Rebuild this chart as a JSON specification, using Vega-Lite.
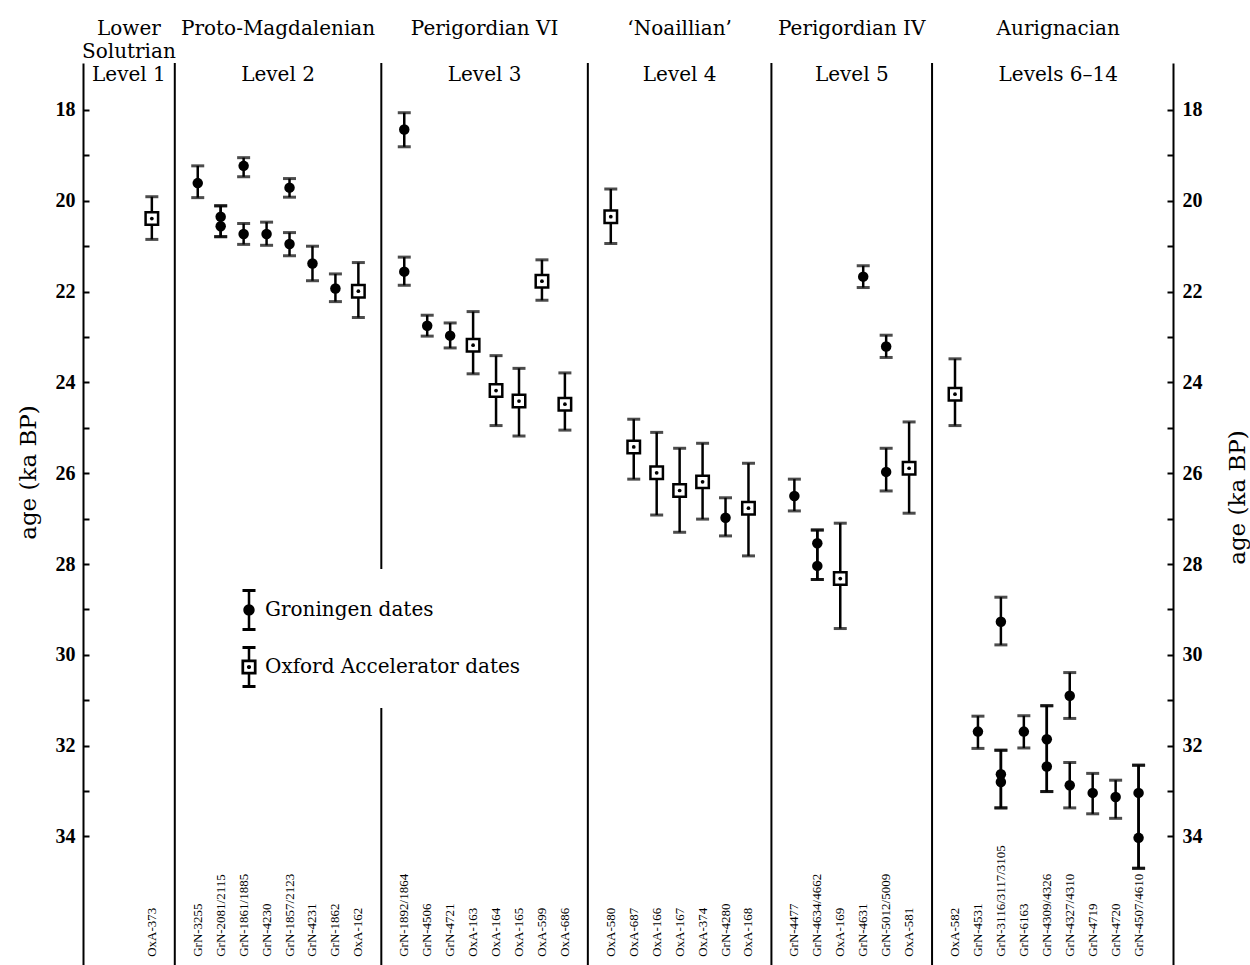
{
  "$schema": "https://vega.github.io/schema/vega-lite/v6.json",
  "width": 1090,
  "height": 902,
  "autosize": "none",
  "padding": {"left": 83, "top": 63, "right": 77, "bottom": 0},
  "background": "white",
  "config": {"view": {"stroke": null}, "font": "Liberation Serif"},
  "datasets": {
    "points": [
      {"col": "OxA-373", "lab": "Oxford Accelerator dates", "age": 20.39, "lo": 19.91, "hi": 20.85},
      {"col": "GrN-3255", "lab": "Groningen dates", "age": 19.61, "lo": 19.23, "hi": 19.93},
      {"col": "GrN-2081/2115", "lab": "Groningen dates", "age": 20.35, "lo": 20.11, "hi": 20.79},
      {"col": "GrN-2081/2115", "lab": "Groningen dates", "age": 20.56, "lo": 20.11, "hi": 20.79},
      {"col": "GrN-1861/1885", "lab": "Groningen dates", "age": 19.23, "lo": 19.05, "hi": 19.47},
      {"col": "GrN-1861/1885", "lab": "Groningen dates", "age": 20.73, "lo": 20.50, "hi": 20.96},
      {"col": "GrN-4230", "lab": "Groningen dates", "age": 20.73, "lo": 20.47, "hi": 20.98},
      {"col": "GrN-1857/2123", "lab": "Groningen dates", "age": 19.71, "lo": 19.51, "hi": 19.92},
      {"col": "GrN-1857/2123", "lab": "Groningen dates", "age": 20.95, "lo": 20.70, "hi": 21.21},
      {"col": "GrN-4231", "lab": "Groningen dates", "age": 21.38, "lo": 21.00, "hi": 21.76},
      {"col": "GrN-1862", "lab": "Groningen dates", "age": 21.93, "lo": 21.61, "hi": 22.22},
      {"col": "OxA-162", "lab": "Oxford Accelerator dates", "age": 21.99, "lo": 21.36, "hi": 22.57},
      {"col": "GrN-1892/1864", "lab": "Groningen dates", "age": 18.43, "lo": 18.06, "hi": 18.81},
      {"col": "GrN-1892/1864", "lab": "Groningen dates", "age": 21.56, "lo": 21.24, "hi": 21.86},
      {"col": "GrN-4506", "lab": "Groningen dates", "age": 22.75, "lo": 22.52, "hi": 22.98},
      {"col": "GrN-4721", "lab": "Groningen dates", "age": 22.97, "lo": 22.69, "hi": 23.24},
      {"col": "OxA-163", "lab": "Oxford Accelerator dates", "age": 23.18, "lo": 22.44, "hi": 23.81},
      {"col": "OxA-164", "lab": "Oxford Accelerator dates", "age": 24.18, "lo": 23.41, "hi": 24.95},
      {"col": "OxA-165", "lab": "Oxford Accelerator dates", "age": 24.41, "lo": 23.69, "hi": 25.18},
      {"col": "OxA-599", "lab": "Oxford Accelerator dates", "age": 21.77, "lo": 21.30, "hi": 22.19},
      {"col": "OxA-686", "lab": "Oxford Accelerator dates", "age": 24.48, "lo": 23.79, "hi": 25.05},
      {"col": "OxA-580", "lab": "Oxford Accelerator dates", "age": 20.35, "lo": 19.74, "hi": 20.94},
      {"col": "OxA-687", "lab": "Oxford Accelerator dates", "age": 25.42, "lo": 24.81, "hi": 26.13},
      {"col": "OxA-166", "lab": "Oxford Accelerator dates", "age": 25.99, "lo": 25.10, "hi": 26.92},
      {"col": "OxA-167", "lab": "Oxford Accelerator dates", "age": 26.38, "lo": 25.45, "hi": 27.30},
      {"col": "OxA-374", "lab": "Oxford Accelerator dates", "age": 26.19, "lo": 25.34, "hi": 27.01},
      {"col": "GrN-4280", "lab": "Groningen dates", "age": 26.98, "lo": 26.54, "hi": 27.38},
      {"col": "OxA-168", "lab": "Oxford Accelerator dates", "age": 26.77, "lo": 25.78, "hi": 27.82},
      {"col": "GrN-4477", "lab": "Groningen dates", "age": 26.50, "lo": 26.13, "hi": 26.83},
      {"col": "GrN-4634/4662", "lab": "Groningen dates", "age": 27.54, "lo": 27.25, "hi": 28.34},
      {"col": "GrN-4634/4662", "lab": "Groningen dates", "age": 28.04, "lo": 27.25, "hi": 28.34},
      {"col": "OxA-169", "lab": "Oxford Accelerator dates", "age": 28.32, "lo": 27.10, "hi": 29.42},
      {"col": "GrN-4631", "lab": "Groningen dates", "age": 21.67, "lo": 21.43, "hi": 21.91},
      {"col": "GrN-5012/5009", "lab": "Groningen dates", "age": 23.21, "lo": 22.96, "hi": 23.45},
      {"col": "GrN-5012/5009", "lab": "Groningen dates", "age": 25.97, "lo": 25.45, "hi": 26.39},
      {"col": "OxA-581", "lab": "Oxford Accelerator dates", "age": 25.89, "lo": 24.87, "hi": 26.88},
      {"col": "OxA-582", "lab": "Oxford Accelerator dates", "age": 24.26, "lo": 23.48, "hi": 24.95},
      {"col": "GrN-4531", "lab": "Groningen dates", "age": 31.69, "lo": 31.35, "hi": 32.06},
      {"col": "GrN-3116/3117/3105", "lab": "Groningen dates", "age": 29.27, "lo": 28.73, "hi": 29.78},
      {"col": "GrN-3116/3117/3105", "lab": "Groningen dates", "age": 32.63, "lo": 32.10, "hi": 33.37},
      {"col": "GrN-3116/3117/3105", "lab": "Groningen dates", "age": 32.80, "lo": 32.10, "hi": 33.37},
      {"col": "GrN-6163", "lab": "Groningen dates", "age": 31.69, "lo": 31.34, "hi": 32.05},
      {"col": "GrN-4309/4326", "lab": "Groningen dates", "age": 31.86, "lo": 31.12, "hi": 33.01},
      {"col": "GrN-4309/4326", "lab": "Groningen dates", "age": 32.46, "lo": 31.12, "hi": 33.01},
      {"col": "GrN-4327/4310", "lab": "Groningen dates", "age": 30.90, "lo": 30.39, "hi": 31.40},
      {"col": "GrN-4327/4310", "lab": "Groningen dates", "age": 32.87, "lo": 32.37, "hi": 33.37},
      {"col": "GrN-4719", "lab": "Groningen dates", "age": 33.04, "lo": 32.61, "hi": 33.50},
      {"col": "GrN-4720", "lab": "Groningen dates", "age": 33.13, "lo": 32.76, "hi": 33.60},
      {"col": "GrN-4507/4610", "lab": "Groningen dates", "age": 33.04, "lo": 32.43, "hi": 34.70},
      {"col": "GrN-4507/4610", "lab": "Groningen dates", "age": 34.03, "lo": 32.43, "hi": 34.70}
    ],
    "seps": [
      {"col": "S1"}, {"col": "S2"}, {"col": "S3"}, {"col": "S4"}, {"col": "S5"}
    ],
    "headers": [
      {"col": "H1", "culture": "Lower\nSolutrian", "level": "Level 1"},
      {"col": "H2", "culture": "Proto-Magdalenian", "level": "Level 2"},
      {"col": "H3", "culture": "Perigordian VI", "level": "Level 3"},
      {"col": "OxA-167", "culture": "‘Noaillian’", "level": "Level 4"},
      {"col": "H5", "culture": "Perigordian IV", "level": "Level 5"},
      {"col": "H6", "culture": "Aurignacian", "level": "Levels 6–14"}
    ]
  },
  "encoding": {
    "x": {
      "field": "col",
      "type": "nominal",
      "axis": null,
      "scale": {
        "type": "point",
        "padding": 1.16,
        "domain": ["_a1","_a2","_a3","H1","_a4","OxA-373","_a5","S1","_a6","GrN-3255","_a7","GrN-2081/2115","_a8","GrN-1861/1885","_a9","GrN-4230","H2","GrN-1857/2123","_a10","GrN-4231","_a11","GrN-1862","_a12","OxA-162","_a13","S2","_a14","GrN-1892/1864","_a15","GrN-4506","_a16","GrN-4721","_a17","OxA-163","H3","OxA-164","_a18","OxA-165","_a19","OxA-599","_a20","OxA-686","_a21","S3","_a22","OxA-580","_a23","OxA-687","_a24","OxA-166","_a25","OxA-167","_a26","OxA-374","_a27","GrN-4280","_a28","OxA-168","_a29","S4","_a30","GrN-4477","_a31","GrN-4634/4662","_a32","OxA-169","H5","GrN-4631","_a33","GrN-5012/5009","_a34","OxA-581","_a35","S5","_a36","OxA-582","_a37","GrN-4531","_a38","GrN-3116/3117/3105","_a39","GrN-6163","_a40","GrN-4309/4326","H6","GrN-4327/4310","_a41","GrN-4719","_a42","GrN-4720","_a43","GrN-4507/4610","_a44","_a45"]
      }
    }
  },
  "resolve": {"axis": {"y": "independent"}},
  "layer": [
    {
      "data": {"name": "seps"},
      "mark": {"type": "rule", "color": "black", "strokeWidth": 2}
    },
    {
      "data": {"name": "points"},
      "mark": {"type": "rule", "color": "black", "strokeWidth": 2.5},
      "encoding": {
        "y": {
          "field": "lo", "type": "quantitative",
          "scale": {"domain": [16.965, 36.83], "reverse": true, "nice": false, "zero": false},
          "axis": {
            "orient": "left", "values": [18,19,20,21,22,23,24,25,26,27,28,29,30,31,32,33,34],
            "labelExpr": "datum.value % 2 == 0 ? datum.label : ''",
            "grid": false, "domainColor": "black", "domainWidth": 2, "tickColor": "black", "tickWidth": 2, "tickSize": -6,
            "labelPadding": 14, "labelFont": "Liberation Serif", "labelFontSize": 20, "labelFontWeight": "bold", "labelColor": "black",
            "title": "age (ka BP)", "titleFont": "DejaVu Serif", "titleFontSize": 23, "titleFontWeight": "normal", "titleColor": "black",
            "titleAngle": 270, "titleX": -55, "titleY": 409, "titleBaseline": "middle", "titleAlign": "center"
          }
        },
        "y2": {"field": "hi"}
      }
    },
    {
      "data": {"name": "points"},
      "mark": {"type": "tick", "color": "black", "size": 13, "thickness": 3},
      "encoding": {
        "y": {
          "field": "lo", "type": "quantitative",
          "scale": {"domain": [16.965, 36.83], "reverse": true, "nice": false, "zero": false},
          "axis": {
            "orient": "right", "values": [18,19,20,21,22,23,24,25,26,27,28,29,30,31,32,33,34],
            "labelExpr": "datum.value % 2 == 0 ? datum.label : ''",
            "grid": false, "domainColor": "black", "domainWidth": 2, "tickColor": "black", "tickWidth": 2, "tickSize": -6,
            "labelPadding": 15, "labelFont": "Liberation Serif", "labelFontSize": 20, "labelFontWeight": "bold", "labelColor": "black",
            "title": "age (ka BP)", "titleFont": "DejaVu Serif", "titleFontSize": 23, "titleFontWeight": "normal", "titleColor": "black",
            "titleAngle": 270, "titleX": 64, "titleY": 434, "titleBaseline": "middle", "titleAlign": "center"
          }
        }
      }
    },
    {
      "data": {"name": "points"},
      "mark": {"type": "tick", "color": "black", "size": 13, "thickness": 3},
      "encoding": {
        "y": {"field": "hi", "type": "quantitative", "scale": {"domain": [16.965, 36.83], "reverse": true, "nice": false, "zero": false}, "axis": null}
      }
    },
    {
      "data": {"name": "points"},
      "transform": [{"filter": "datum.lab == 'Groningen dates'"}],
      "mark": {"type": "circle", "color": "black", "size": 110, "opacity": 1},
      "encoding": {
        "y": {"field": "age", "type": "quantitative", "scale": {"domain": [16.965, 36.83], "reverse": true, "nice": false, "zero": false}, "axis": null}
      }
    },
    {
      "data": {"name": "points"},
      "transform": [{"filter": "datum.lab == 'Oxford Accelerator dates'"}],
      "mark": {"type": "square", "fill": "white", "stroke": "black", "strokeWidth": 2.5, "size": 156, "opacity": 1, "fillOpacity": 1},
      "encoding": {
        "y": {"field": "age", "type": "quantitative", "scale": {"domain": [16.965, 36.83], "reverse": true, "nice": false, "zero": false}, "axis": null}
      }
    },
    {
      "data": {"name": "points"},
      "transform": [{"filter": "datum.lab == 'Oxford Accelerator dates'"}],
      "mark": {"type": "circle", "color": "black", "size": 14, "opacity": 1},
      "encoding": {
        "y": {"field": "age", "type": "quantitative", "scale": {"domain": [16.965, 36.83], "reverse": true, "nice": false, "zero": false}, "axis": null}
      }
    },
    {
      "data": {"name": "points"},
      "transform": [{"filter": "false"}],
      "mark": {"type": "point", "filled": true, "fill": "black", "size": 1764, "opacity": 1},
      "encoding": {
        "y": {"field": "age", "type": "quantitative", "scale": {"domain": [16.965, 36.83], "reverse": true, "nice": false, "zero": false}, "axis": null},
        "shape": {
          "field": "lab", "type": "nominal",
          "scale": {
            "domain": ["Groningen dates", "Oxford Accelerator dates"],
            "range": [
              "M-0.31,-1H0.31V-0.86H-0.31ZM-0.31,0.86H0.31V1H-0.31ZM-0.06,-0.93H0.06V0.93H-0.06ZM-0.27,0A0.27,0.27,0,1,1,0.27,0A0.27,0.27,0,1,1,-0.27,0Z",
              "M-0.31,-1H0.31V-0.86H-0.31ZM-0.31,0.86H0.31V1H-0.31ZM-0.06,-0.93H0.06V-0.36H-0.06ZM-0.06,0.36H0.06V0.93H-0.06ZM-0.36,-0.36H0.36V0.36H-0.36ZM-0.23,-0.23V0.23H0.23V-0.23ZM-0.1,0A0.1,0.1,0,1,1,0.1,0A0.1,0.1,0,1,1,-0.1,0Z"
            ]
          },
          "legend": {
            "title": null, "orient": "none", "legendX": 125, "legendY": 506,
            "symbolSize": 1764, "symbolFillColor": "black", "symbolOpacity": 1, "symbolStrokeWidth": 0,
            "labelFont": "DejaVu Serif", "labelFontSize": 20, "labelColor": "black", "labelOffset": -5, "labelLimit": 400, "labelBaseline": "middle",
            "rowPadding": 15, "padding": 20, "fillColor": "white", "zindex": 1,
            "encode": {
              "symbols": {
                "size": {"value": 1764},
                "fill": {"value": "black"},
                "opacity": {"value": 1},
                "fillOpacity": {"value": 1}
              }
            }
          }
        }
      }
    },
    {
      "data": {"name": "points"},
      "transform": [{"aggregate": [{"op": "count", "as": "n"}], "groupby": ["col"]}],
      "mark": {"type": "text", "angle": 270, "align": "left", "baseline": "middle", "font": "Liberation Serif", "fontSize": 13, "color": "black"},
      "encoding": {
        "y": {"datum": 36.65, "type": "quantitative", "scale": {"domain": [16.965, 36.83], "reverse": true, "nice": false, "zero": false}, "axis": null},
        "text": {"field": "col"}
      }
    },
    {
      "data": {"name": "headers"},
      "mark": {"type": "text", "align": "center", "baseline": "alphabetic", "font": "DejaVu Serif", "fontSize": 20, "lineHeight": 23, "lineBreak": "\n", "color": "black"},
      "encoding": {
        "y": {"datum": 16.35, "type": "quantitative", "scale": {"domain": [16.965, 36.83], "reverse": true, "nice": false, "zero": false}, "axis": null},
        "text": {"field": "culture"}
      }
    },
    {
      "data": {"name": "headers"},
      "mark": {"type": "text", "align": "center", "baseline": "alphabetic", "font": "DejaVu Serif", "fontSize": 20, "color": "black"},
      "encoding": {
        "y": {"datum": 17.36, "type": "quantitative", "scale": {"domain": [16.965, 36.83], "reverse": true, "nice": false, "zero": false}, "axis": null},
        "text": {"field": "level"}
      }
    }
  ]
}
